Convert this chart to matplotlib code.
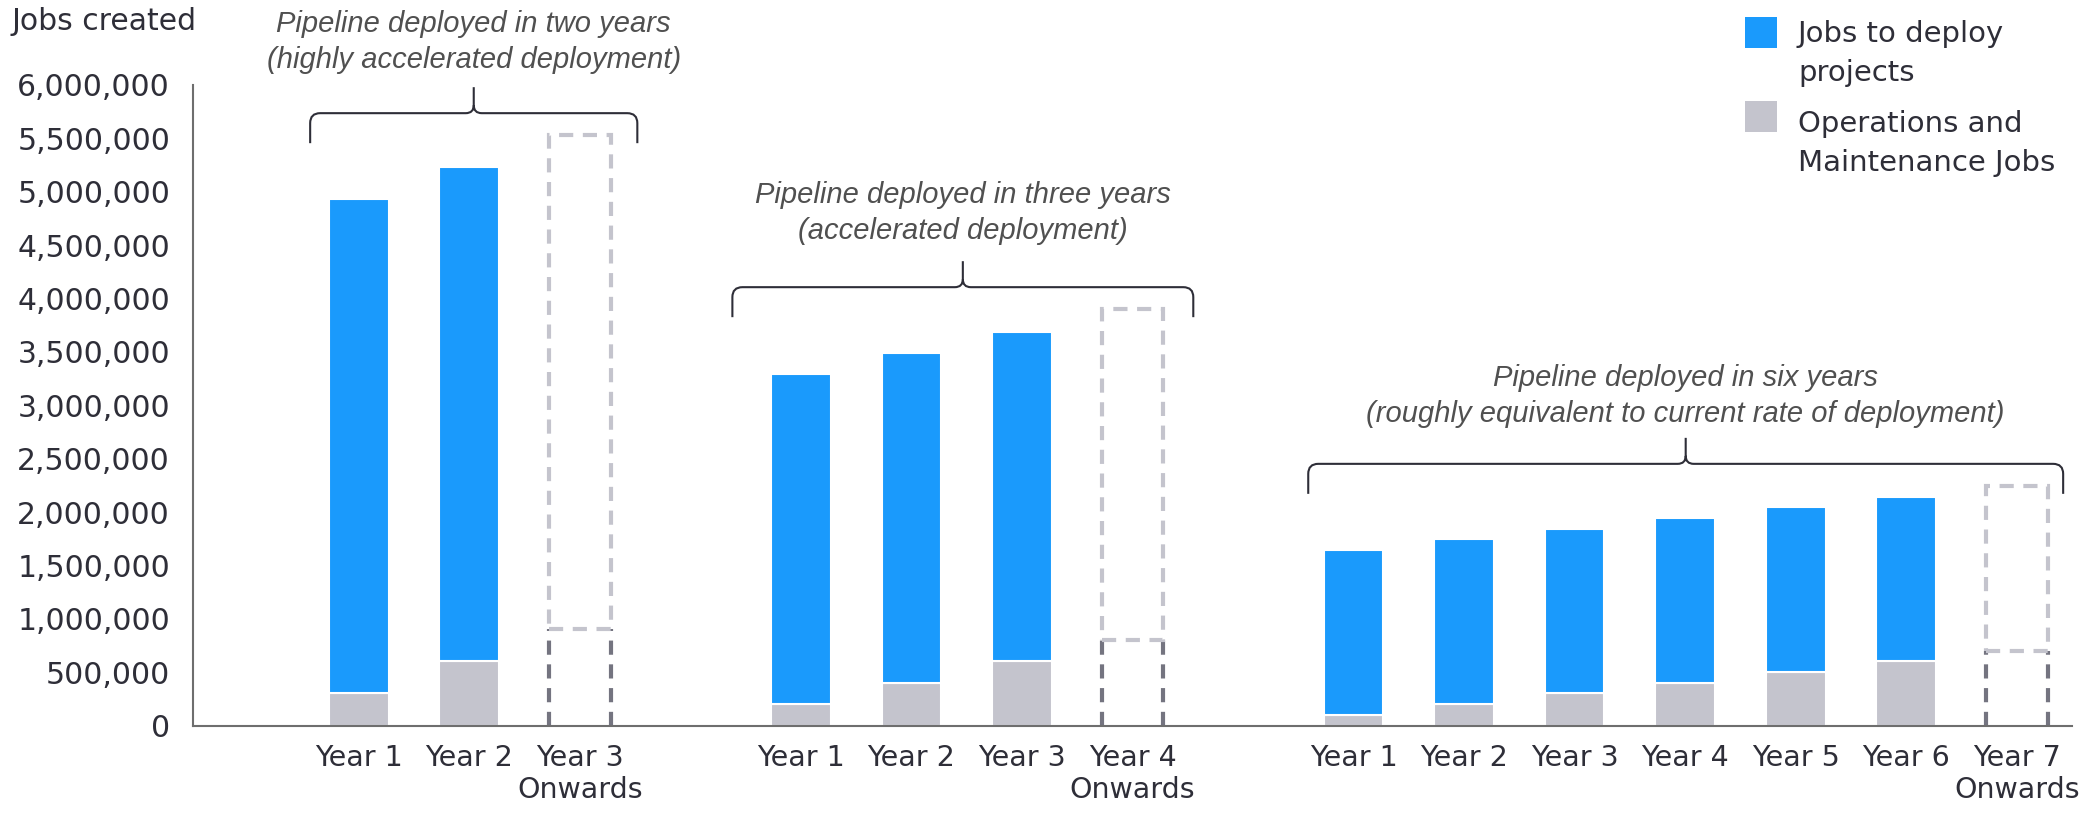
import numpy as np
import matplotlib
matplotlib.use("Agg")
import matplotlib.pyplot as plt
from matplotlib.path import Path
from matplotlib.patches import PathPatch, Rectangle
from matplotlib.ticker import StrMethodFormatter

# --- data ---
scenario_titles = [
    "Pipeline deployed in two years\n(highly accelerated deployment)",
    "Pipeline deployed in three years\n(accelerated deployment)",
    "Pipeline deployed in six years\n(roughly equivalent to current rate of deployment)",
]

years_two = ["Year 1", "Year 2", "Year 3\nOnwards"]
years_three = ["Year 1", "Year 2", "Year 3", "Year 4\nOnwards"]
years_six = ["Year 1", "Year 2", "Year 3", "Year 4", "Year 5", "Year 6", "Year 7\nOnwards"]

deploy_two = [4630000, 4630000]
om_two = [300000, 600000]
deploy_three = [3090000, 3090000, 3090000]
om_three = [200000, 400000, 600000]
deploy_six = [1545000, 1545000, 1545000, 1545000, 1545000, 1545000]
om_six = [100000, 200000, 300000, 400000, 500000, 600000]

# the dashed "onwards" bars: total height and O&M level
onwards_total = [5530000, 3900000, 2245000]
onwards_om = [900000, 800000, 700000]

legend_labels = ["Jobs to deploy\nprojects", "Operations and\nMaintenance Jobs"]

# --- style ---
BLUE = "#1a9afc"
GREY = "#c4c4cd"
DARK = "#747480"
TEXT = "#2e2e38"
ANNOT = "#505050"

W, H = 2093, 815
fig = plt.figure(figsize=(W / 100, H / 100), dpi=100)
ax = fig.add_axes([193 / W, 89.5 / H, (2072 - 193) / W, (725.5 - 85) / H])

groups = [
    (years_two, deploy_two, om_two),
    (years_three, deploy_three, om_three),
    (years_six, deploy_six, om_six),
]
brace_span = [(-0.44, 0.52), (-0.62, 0.55), (-0.41, 0.42)]
title_offset = [71, 74, 68]  # px above the brace line

ax.set_xlim(-1.5, 15.5)
ax.set_ylim(0, 6000000)

# pixel -> data conversion factors
ax_w_px = (2072 - 193)
ax_h_px = (725.5 - 85)
px_x = (15.5 + 1.5) / ax_w_px
px_y = 6000000 / ax_h_px

bar_w = 0.54
dash_w = 0.56
dash = (0, (3.4, 2.3))


def draw_brace(x0, x1, yh):
    r = 10
    rc = 8
    yb = yh - 30 * px_y
    yt = yh + 26 * px_y
    xc = (x0 + x1) / 2
    verts = [
        (x0, yb), (x0, yh - r * px_y),
        (x0, yh), (x0 + r * px_x, yh),
        (xc - rc * px_x, yh),
        (xc, yh), (xc, yh + rc * px_y),
        (xc, yt),
        (xc, yh + rc * px_y),
        (xc, yh), (xc + rc * px_x, yh),
        (x1 - r * px_x, yh),
        (x1, yh), (x1, yh - r * px_y),
        (x1, yb),
    ]
    codes = [Path.MOVETO, Path.LINETO,
             Path.CURVE3, Path.CURVE3,
             Path.LINETO,
             Path.CURVE3, Path.CURVE3,
             Path.LINETO,
             Path.MOVETO,
             Path.CURVE3, Path.CURVE3,
             Path.LINETO,
             Path.CURVE3, Path.CURVE3,
             Path.LINETO]
    ax.add_patch(PathPatch(Path(verts, codes), fill=False, edgecolor=TEXT,
                           lw=1.5, clip_on=False, zorder=5))


tick_pos, tick_lab = [], []
start = 0
for i, (labels, deploy, om) in enumerate(groups):
    pos = start + np.arange(len(labels))
    n = len(deploy)
    ax.bar(pos[:n], om, width=bar_w, color=GREY, edgecolor="white", lw=1.5, zorder=2)
    ax.bar(pos[:n], deploy, bottom=om, width=bar_w, color=BLUE, edgecolor="white",
           lw=1.5, zorder=2)

    # dashed outline for the "onwards" year
    xo = pos[-1]
    ax.vlines([xo - dash_w / 2, xo + dash_w / 2], 0, onwards_om[i], colors=DARK,
              linestyles=dash, lw=3, zorder=2)
    ax.bar(xo, onwards_total[i] - onwards_om[i], bottom=onwards_om[i], width=dash_w,
           fill=False, edgecolor=GREY, linestyle=dash, lw=3, zorder=3)

    # brace and scenario title
    yh = onwards_total[i] + 22 * px_y
    x0 = pos[0] + brace_span[i][0]
    x1 = pos[-1] + brace_span[i][1]
    draw_brace(x0, x1, yh)
    ax.text((x0 + x1) / 2, yh + title_offset[i] * px_y, scenario_titles[i],
            ha="center", va="center", fontsize=21, style="italic",
            family="Liberation Sans", color=ANNOT, linespacing=1.36, clip_on=False)

    tick_pos += list(pos)
    tick_lab += labels
    start = pos[-1] + 2

ax.set_xticks(tick_pos, tick_lab)
ax.set_yticks(np.arange(0, 6000001, 500000))
ax.yaxis.set_major_formatter(StrMethodFormatter("{x:,.0f}"))
ax.tick_params(axis="y", length=0, pad=16.5, labelsize=21.5, labelcolor=TEXT)
ax.tick_params(axis="x", length=0, pad=13, labelsize=20.5, labelcolor=TEXT)

for s in ["top", "right"]:
    ax.spines[s].set_visible(False)
for s in ["left", "bottom"]:
    ax.spines[s].set_color("#6e6e6e")
    ax.spines[s].set_linewidth(1.5)

fig.text(11 / W, 1 - 21 / H, "Jobs created", ha="left", va="center", fontsize=21.5,
         color=TEXT)

# legend, drawn by hand so the swatch sits on the first line
for j, (lab, col) in enumerate(zip(legend_labels, [BLUE, GREY])):
    top = 17 + j * 84
    fig.patches.append(Rectangle((1745 / W, 1 - (top + 31) / H), 32 / W, 31 / H,
                                 transform=fig.transFigure, facecolor=col,
                                 edgecolor="none"))
    fig.text(1798 / W, 1 - (top + 3 + j * 6) / H, lab, ha="left", va="top",
             fontsize=21, color=TEXT, linespacing=1.5)

fig.savefig("out.png", dpi=100)
